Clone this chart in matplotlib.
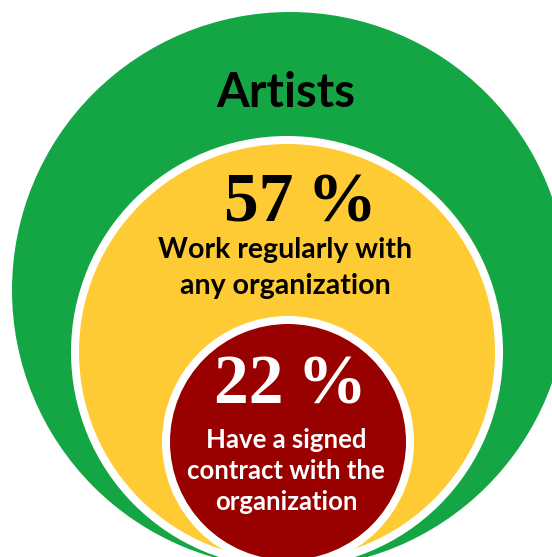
import matplotlib.pyplot as plt
from matplotlib.patches import Circle

# data
group_title = "Artists"
shares = [57, 22]
share_labels = [["Work regularly with", "any organization"],
                ["Have a signed", "contract with the", "organization"]]

# layout (pixel coordinates, y down)
W, H = 552, 557
green = "#14a644"
yellow = "#ffcb34"
red = "#990000"

fig = plt.figure(figsize=(W / 100, H / 100), dpi=100)
ax = fig.add_axes([0, 0, 1, 1])
ax.set_xlim(0, W)
ax.set_ylim(H, 0)
ax.set_aspect("equal")
ax.axis("off")

# outer circle
ax.add_patch(Circle((290, 290), 278, color=green, lw=0))
# yellow circle with white ring
ax.add_patch(Circle((287, 352), 216, color="white", lw=0))
ax.add_patch(Circle((287, 352), 208, color=yellow, lw=0))
# red circle with white ring
ax.add_patch(Circle((288, 442), 126, color="white", lw=0))
ax.add_patch(Circle((288, 442), 118, color=red, lw=0))

sans = ["Lato", "DejaVu Sans"]
serif = ["Liberation Serif", "DejaVu Serif"]

ax.text(286, 107, group_title, ha="center", va="baseline",
        fontsize=34, fontweight="bold", family=sans, color="black")

# 57%
ax.text(300, 222, "{}\u2009%".format(shares[0]), ha="center", va="baseline",
        fontsize=50, fontweight="bold", family=serif, color="black")
for i, line in enumerate(share_labels[0]):
    ax.text(285, 258 + 36 * i, line, ha="center", va="baseline",
            fontsize=20.5, fontweight="bold", family=sans, color="black")

# 22%
ax.text(290, 404, "{}\u2009%".format(shares[1]), ha="center", va="baseline",
        fontsize=50, fontweight="bold", family=serif, color="white")
for i, line in enumerate(share_labels[1]):
    ax.text(286, 448 + 31 * i, line, ha="center", va="baseline",
            fontsize=18.5, fontweight="bold", family=sans, color="white")

fig.savefig("out.png", dpi=100)
